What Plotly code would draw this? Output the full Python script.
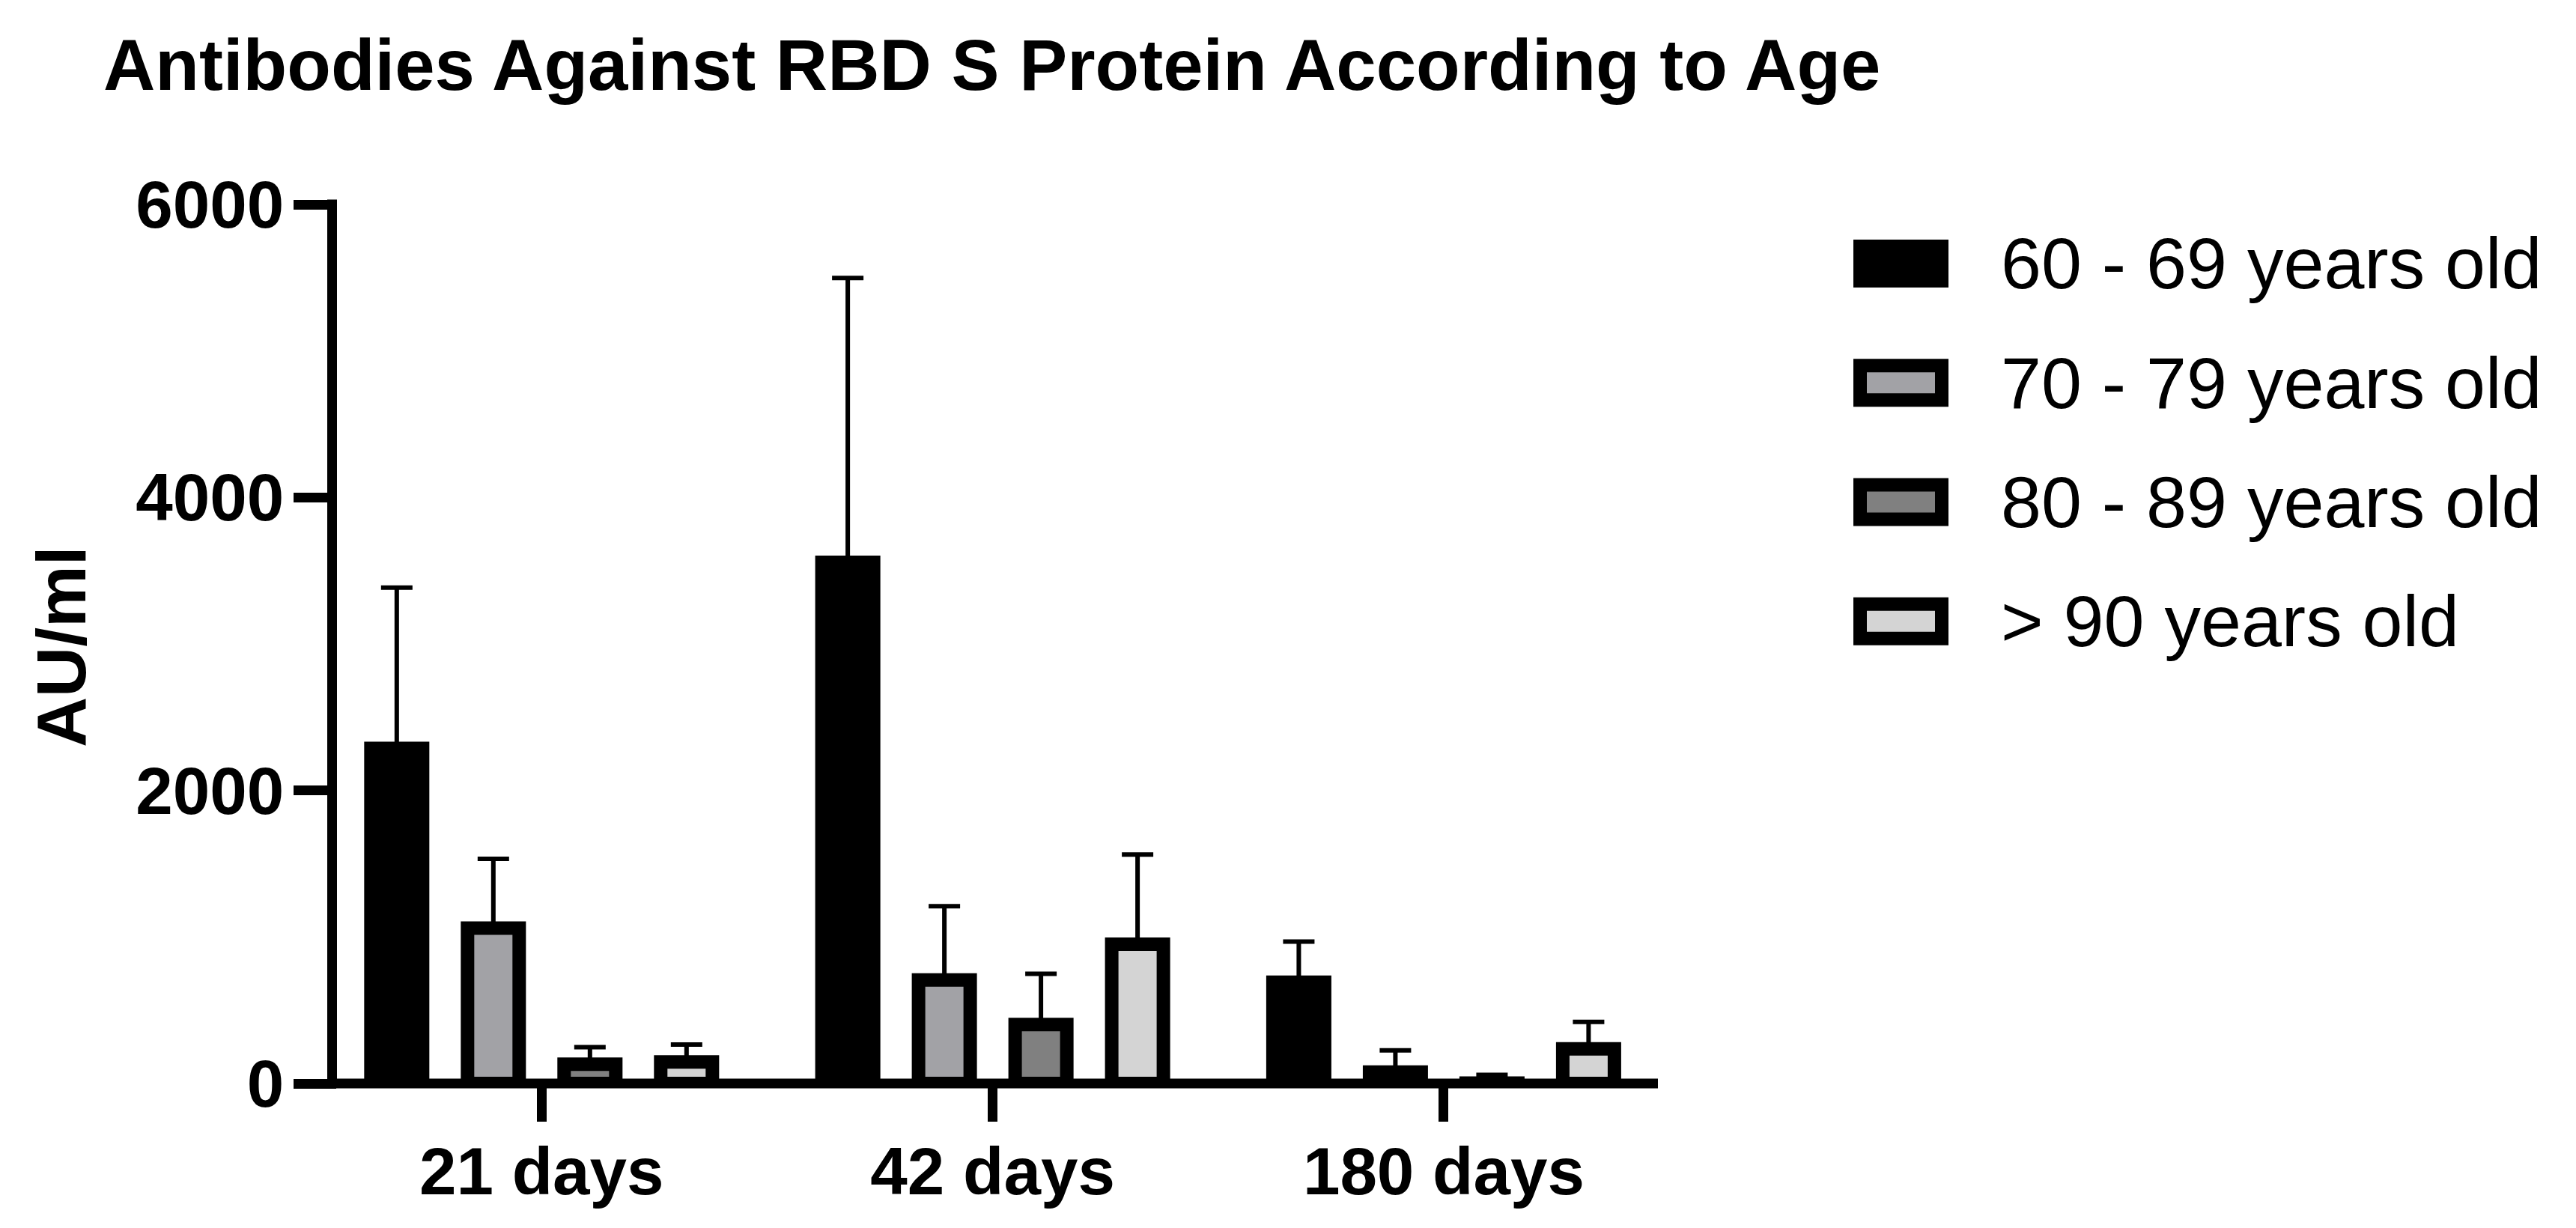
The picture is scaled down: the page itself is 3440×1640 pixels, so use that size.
import plotly.graph_objects as go

# ---------------- data ----------------
categories = ["21 days", "42 days", "180 days"]
series_names = ["60 - 69 years old", "70 - 79 years old", "80 - 89 years old", "> 90 years old"]

mean_60_69 = [2287, 3557, 691]
mean_70_79 = [1060, 707, 78]
mean_80_89 = [131, 403, 3]
mean_90_plus = [147, 950, 236]

err_60_69 = [1097, 1941, 277]
err_70_79 = [473, 503, 148]
err_80_89 = [117, 346, 56]
err_90_plus = [119, 613, 184]
err_minus_none = [0, 0, 0]

y_tick_values = [0, 2000, 4000, 6000]
y_tick_labels = ["0", "2000", "4000", "6000"]

chart_title = "Antibodies Against RBD S Protein According to Age"
y_title = "AU/ml"

# ---------------- style ----------------
fill_colors = ["#000000", "#A2A2A6", "#808080", "#D4D4D4"]
FONT = "Liberation Sans, Arial, Helvetica, sans-serif"

W, H = 3440, 1640
ML, MR, MT, MB = 450, 1226, 273, 192.5
PW = W - ML - MR
PH = H - MT - MB


def px_x(px):
    return (px - ML) / PW


def px_y(py):
    return (H - MB - py) / PH


means = [mean_60_69, mean_70_79, mean_80_89, mean_90_plus]
errs = [err_60_69, err_70_79, err_80_89, err_90_plus]

fig = go.Figure()
for name, m, e, c in zip(series_names, means, errs, fill_colors):
    fig.add_trace(go.Bar(
        x=categories, y=m, name=name,
        marker=dict(color=c, line=dict(color="black", width=18)),
        error_y=dict(type="data", array=e, arrayminus=err_minus_none,
                     symmetric=False, color="black", thickness=6, width=21),
        showlegend=False,
    ))

shapes = []
# axis lines
shapes.append(dict(type="line", xref="paper", yref="paper",
                   x0=px_x(443.5), x1=px_x(443.5), y0=0, y1=px_y(266.5),
                   line=dict(color="black", width=13)))
shapes.append(dict(type="line", xref="paper", yref="paper",
                   x0=px_x(437), x1=1, y0=0, y1=0,
                   line=dict(color="black", width=13)))

annotations = []
# custom legend
leg_c0, leg_step = 352, 159.3
for i, (name, c) in enumerate(zip(series_names, fill_colors)):
    cy = leg_c0 + i * leg_step
    shapes.append(dict(type="rect", xref="paper", yref="paper",
                       x0=px_x(2484), x1=px_x(2593),
                       y0=px_y(cy + 23), y1=px_y(cy - 23),
                       fillcolor=c, line=dict(color="black", width=18)))
    annotations.append(dict(text=name, xref="paper", yref="paper",
                            x=px_x(2670), y=px_y(cy), xanchor="left", yanchor="middle",
                            showarrow=False,
                            font=dict(family=FONT, size=97, color="black")))

annotations.append(dict(text=chart_title, xref="paper", yref="paper",
                        x=px_x(136), y=px_y(31), xanchor="left", yanchor="top",
                        showarrow=False,
                        font=dict(family=FONT, size=96, color="black", weight="bold")))
annotations.append(dict(text=y_title, xref="paper", yref="paper",
                        x=px_x(82.6), y=px_y(863.7), xanchor="center", yanchor="middle",
                        textangle=-90, showarrow=False,
                        font=dict(family=FONT, size=93, color="black", weight="bold")))

fig.update_layout(
    width=W, height=H,
    margin=dict(l=ML, r=MR, t=MT, b=MB, pad=0, autoexpand=False),
    paper_bgcolor="white", plot_bgcolor="white",
    barmode="group", bargap=0.1433, bargroupgap=0.465,
    showlegend=False,
    shapes=shapes, annotations=annotations,
    xaxis=dict(type="category", range=[-0.4538, 2.475],
               showline=False, showgrid=False, zeroline=False,
               ticks="outside", ticklen=50, tickwidth=13, tickcolor="black",
               ticklabelstandoff=-10,
               tickfont=dict(family=FONT, size=89, color="black", weight="bold")),
    yaxis=dict(range=[0, 6000], tickvals=y_tick_values, ticktext=y_tick_labels,
               showline=False, showgrid=False, zeroline=False,
               ticks="outside", ticklen=57, tickwidth=13, tickcolor="black",
               ticklabelstandoff=-5,
               tickfont=dict(family=FONT, size=89, color="black", weight="bold")),
)

fig.write_html("out.html", config={"displayModeBar": False},
               post_script="document.body.style.margin='0';document.body.style.overflow='hidden';")
